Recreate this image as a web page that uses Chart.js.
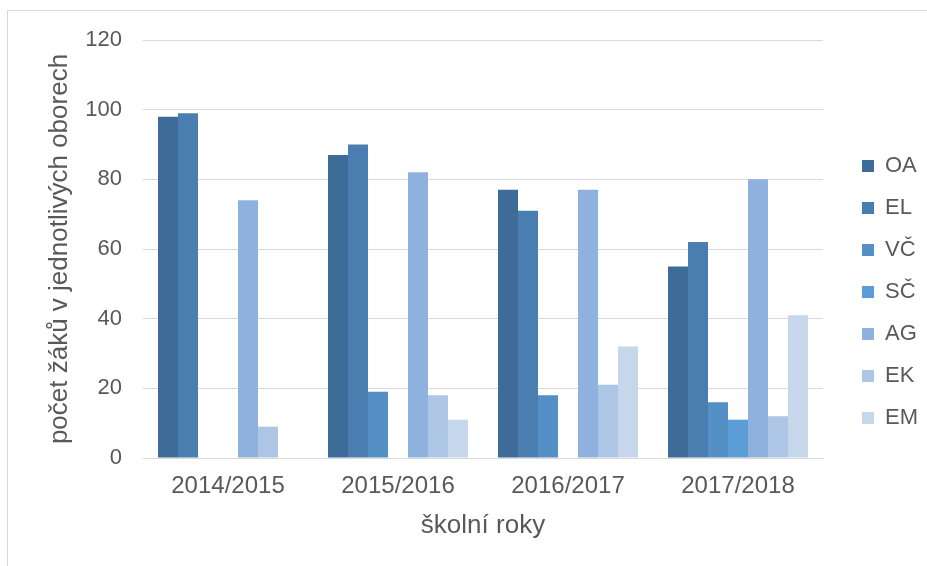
<!DOCTYPE html>
<html><head><meta charset="utf-8">
<script src="https://cdn.jsdelivr.net/npm/chart.js@4/dist/chart.umd.min.js"></script>
<style>html,body{margin:0;padding:0;background:#fff;overflow:hidden}#wrap{position:absolute;left:0;top:0;width:927px;height:566px}</style>
</head><body><div id="wrap"><canvas id="c"></canvas></div>
<script>
const categories = ["2014/2015", "2015/2016", "2016/2017", "2017/2018"];
const seriesNames = ["OA", "EL", "VČ", "SČ", "AG", "EK", "EM"];
const OA = [98, 87, 77, 55];
const EL = [99, 90, 71, 62];
const VC = [0, 19, 18, 16];
const SC = [0, 0, 0, 11];
const AG = [74, 82, 77, 80];
const EK = [9, 18, 21, 12];
const EM = [0, 11, 32, 41];
const yTicks = [0, 20, 40, 60, 80, 100, 120];
const colors = ["#3e6c98", "#4a7eb0", "#5490c5", "#5b9dd7", "#8eb2dd", "#adc6e6", "#c6d7ec"];
const seriesData = [OA, EL, VC, SC, AG, EK, EM];

const framePlugin = {
  id: 'frame',
  afterInit(chart) {
    const lg = chart.legend;
    if (lg && !lg._wrapped) {
      const origFit = lg.fit;
      lg.fit = function () { origFit.call(this); this.width = 104; };
      lg._wrapped = true;
    }
  },
  afterLayout(chart) {
    const lg = chart.legend;
    if (lg) { lg.left += 19; lg.top -= 11; lg.bottom -= 11; }
  },
  beforeDraw(chart) {
    const ctx = chart.ctx;
    ctx.save();
    ctx.strokeStyle = '#d9d9d9';
    ctx.lineWidth = 1;
    ctx.strokeRect(7.5, 10.5, 940, 600);
    ctx.restore();
  }
};

Chart.defaults.font.family = '"Liberation Sans", Arial, sans-serif';
Chart.defaults.color = '#595959';

new Chart(document.getElementById('c'), {
  type: 'bar',
  data: {
    labels: categories,
    datasets: seriesNames.map((n, i) => ({
      label: n,
      data: seriesData[i],
      backgroundColor: colors[i],
      borderWidth: 0,
      categoryPercentage: 0.8235,
      barPercentage: 1
    }))
  },
  options: {
    responsive: true,
    maintainAspectRatio: false,
    animation: false,
    layout: { padding: { left: 0, right: 0, top: 40, bottom: 0 } },
    plugins: {
      tooltip: { enabled: false },
      legend: {
        position: 'right',
        labels: {
          boxWidth: 12, boxHeight: 12, padding: 20,
          font: { size: 22 }, color: '#595959'
        }
      }
    },
    scales: {
      x: {
        afterFit(scale) { scale.height = 108; },
        grid: { display: false, drawTicks: false },
        border: { color: '#d9d9d9', width: 1 },
        ticks: { padding: 14, font: { size: 24 }, color: '#595959' },
        title: { display: true, text: 'školní roky', font: { size: 26 }, color: '#595959', padding: { top: 0, bottom: 25 } }
      },
      y: {
        min: 0, max: 120,
        afterBuildTicks(scale) { scale.ticks = yTicks.map(v => ({ value: v })); },
        afterFit(scale) { scale.width = 143; },
        grid: { color: '#d9d9d9', drawTicks: false },
        border: { display: false },
        ticks: { padding: 21, font: { size: 22 }, color: '#595959' },
        title: { display: true, text: 'počet žáků v jednotlivých oborech', font: { size: 26 }, color: '#595959', padding: { top: 44, bottom: 0 } }
      }
    }
  },
  plugins: [framePlugin]
});
</script></body></html>
